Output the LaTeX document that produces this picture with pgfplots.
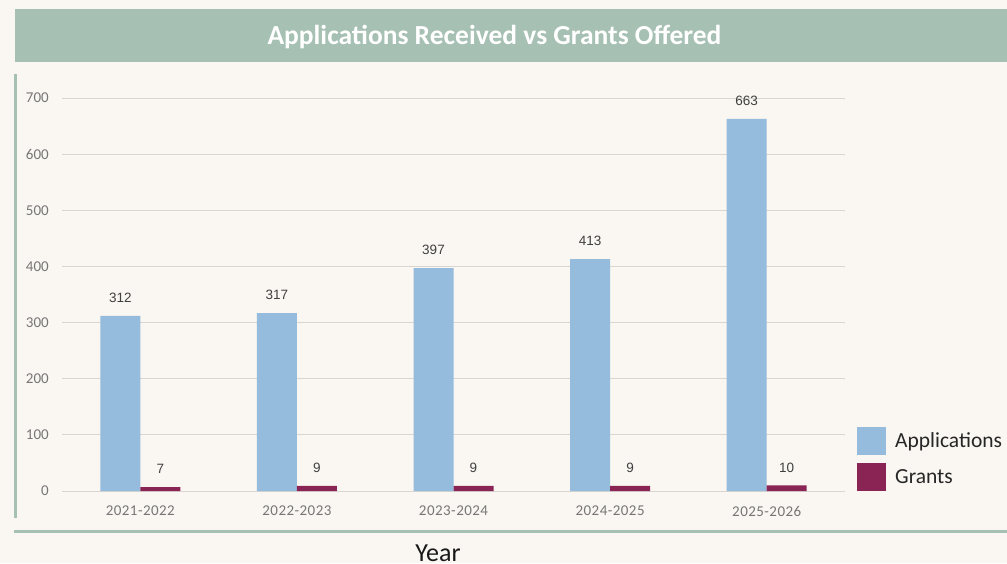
\documentclass[border=0pt]{standalone}
\usepackage{pgfplots}
\pgfplotsset{compat=1.18}
\usepackage{fontspec}
\setmainfont{Carlito}
\newfontfamily\arialf{Liberation Sans}
\newfontfamily\tickf[LetterSpace=3]{Carlito}
\definecolor{bg}{HTML}{FAF7F2}
\definecolor{band}{HTML}{A6C0B3}
\definecolor{app}{HTML}{95BBDD}
\definecolor{grant}{HTML}{8A2454}
\definecolor{gridc}{HTML}{D9D6D1}
\definecolor{tickc}{HTML}{767676}
\definecolor{lblc}{HTML}{404040}
\begin{document}
\begin{tikzpicture}
\useasboundingbox (0pt,0pt) rectangle (1007pt,563pt);
\fill[bg] (0pt,0pt) rectangle (1007pt,563pt);
\fill[band] (15pt,501pt) rectangle (1007pt,554pt);
\node[text=white, font=\fontsize{27.5}{32}\selectfont\bfseries] at (494.5pt,526pt) {Applications Received vs Grants Offered};
\fill[band] (14pt,45pt) rectangle (17pt,489pt);
\fill[band] (14pt,30pt) rectangle (1007pt,33pt);
\node[font=\fontsize{26}{30}\selectfont, text=black!90, anchor=base] at (438pt,2pt) {Year};
\begin{axis}[
  at={(62pt,72pt)}, anchor=south west, scale only axis,
  width=783pt, height=393pt,
  xmin=-0.5, xmax=4.5, ymin=0, ymax=700,
  enlargelimits=false, clip=false,
  ybar=0pt, bar width=40pt,
  axis line style={draw=none},
  major tick length=0pt,
  ymajorgrids, grid style={gridc, line width=0.8pt},
  xtick={0,1,2,3,4},
  xticklabels={2021-2022,2022-2023,2023-2024,2024-2025,2025-2026},
  ytick={0,100,200,300,400,500,600,700},
  /pgf/number format/assume math mode=true,
  tick label style={font=\fontsize{15}{17}\selectfont, text=tickc},
  yticklabel style={anchor=east, inner sep=0pt, xshift=-13pt},
  xticklabel style={anchor=north, inner sep=0pt, yshift=-15pt, font=\tickf\fontsize{15}{17}\selectfont},
  nodes near coords,
  every node near coord/.append style={font=\arialf\fontsize{13.5}{15}\selectfont, text=lblc, anchor=south, inner sep=0pt, yshift=13pt},
  legend style={draw=none, fill=none, at={(1.0153,0.1628)}, anchor=north west,
    font=\fontsize{21.5}{24}\selectfont, text=black!85, inner sep=0pt, row sep=8pt},
  legend cell align=left,
]
\addplot[fill=app, draw=none, legend image code/.code={\fill[app] (0pt,-14pt) rectangle (29pt,14pt); \path (36pt,0pt);}] coordinates {(0,312) (1,317) (2,397) (3,413) (4,663)};
\addlegendentry{Applications}
\addplot[fill=grant, draw=none, legend image code/.code={\fill[grant] (0pt,-14pt) rectangle (29pt,14pt); \path (36pt,0pt);}] coordinates {(0,7) (1,9) (2,9) (3,9) (4,10)};
\addlegendentry{Grants}
\end{axis}
\end{tikzpicture}
\end{document}
